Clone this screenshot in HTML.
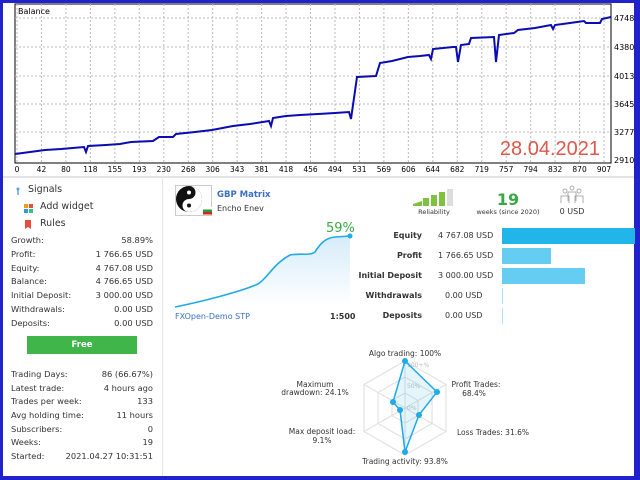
<!DOCTYPE html>
<html><head><meta charset="utf-8"><style>
*{margin:0;padding:0;box-sizing:border-box}
body{width:640px;height:480px;overflow:hidden;background:#2222cc;font-family:"DejaVu Sans","Liberation Sans",sans-serif;}
#wrap{position:absolute;left:3px;top:3px;width:631px;height:473px;background:#fff;}
.t{position:absolute;font-size:8.5px;color:#333;white-space:nowrap}
.r{text-align:right}
.c{text-align:center}
</style></head><body>
<div id="wrap"></div>
<svg width="640" height="480" style="position:absolute;left:0;top:0" font-family="DejaVu Sans, Liberation Sans, sans-serif">
<rect x="15" y="4" width="596" height="159" fill="#fff" stroke="#000" stroke-width="1"/>
<g stroke="#bbb" stroke-dasharray="2,2" stroke-width="1">
<line x1="15" y1="18" x2="611" y2="18"/><line x1="15" y1="47" x2="611" y2="47"/><line x1="15" y1="76" x2="611" y2="76"/><line x1="15" y1="104" x2="611" y2="104"/><line x1="15" y1="132" x2="611" y2="132"/>
</g>
<g id="vg" stroke="#bbb" stroke-dasharray="2,2"></g>
<text x="18" y="14" font-size="8" fill="#000">Balance</text>
<g font-size="8" fill="#000">
<text x="614" y="21">4748</text><text x="614" y="50">4380</text><text x="614" y="79">4013</text><text x="614" y="107">3645</text><text x="614" y="135">3277</text><text x="614" y="163">2910</text>
</g>
<g id="xl" font-size="7.5" fill="#000" text-anchor="middle"></g>
<polyline fill="none" stroke="#0b0bb4" stroke-width="2" points="15,154 30,152 45,150 61,149 84,147 86,152 88,146 106,145 120,144 131,142 153,141 159,137 173,137 176,134 195,132 212,130 233,126 250,124 269,121 271,126 273,118 286,116 300,115 318,114 335,113 349,112 351,119 357,77 376,76 380,63 392,61 408,57 420,56 429,55 431,59 433,49 453,47 456,47 458,62 461,45 469,44 471,38 494,37 496,62 499,35 514,33 518,30 535,28 551,25 553,29 555,25 570,23 584,21 586,23 600,23 602,19 611,17"/>
<text x="600" y="155" font-size="20" fill="#e0574b" text-anchor="end" font-family="Liberation Sans, sans-serif">28.04.2021</text>
<line x1="3" y1="177" x2="634" y2="177" stroke="#e4e4e4" stroke-width="2"/>
<line x1="162.5" y1="178" x2="162.5" y2="476" stroke="#e6e6e6"/>
<rect x="175.5" y="185.5" width="36" height="30" fill="#fff" stroke="#ccc"/>
<circle cx="189" cy="199" r="13" fill="#111"/><path d="M189 186 A13 13 0 0 1 189 212 A6.5 6.5 0 0 1 189 199 A6.5 6.5 0 0 0 189 186Z" fill="#fff"/>
<circle cx="189" cy="192.5" r="2" fill="#fff"/><circle cx="189" cy="205.5" r="2" fill="#111"/>
<rect x="203" y="207" width="9" height="2.5" fill="#fff"/><rect x="203" y="209.5" width="9" height="2.5" fill="#2a9a3a"/><rect x="203" y="212" width="9" height="2.5" fill="#d22"/>
<defs><linearGradient id="g" x1="0" y1="0" x2="0" y2="1"><stop offset="0" stop-color="#d6ecfa"/><stop offset="1" stop-color="#fff"/></linearGradient></defs>
<path d="M175,307 C200,302 240,292 258,284 C268,278 272,265 290,255 C300,253 310,256 315,252 C320,244 325,238 335,237 L350,236 L350,307Z" fill="url(#g)"/>
<path d="M175,307 C200,302 240,292 258,284 C268,278 272,265 290,255 C300,253 310,256 315,252 C320,244 325,238 335,237 L350,236" fill="none" stroke="#20aae8" stroke-width="1.6"/>
<circle cx="350" cy="236" r="2.5" fill="#20aae8"/>
<g><polygon points="413,204 422,201 422,206 413,206" fill="#7fc242"/><rect x="423" y="198" width="6" height="8" fill="#7fc242"/><rect x="431" y="195" width="6" height="11" fill="#7fc242"/><rect x="439" y="192" width="6" height="14" fill="#7fc242"/><rect x="447" y="189" width="6" height="17" fill="#ddd"/></g>
<g fill="none" stroke="#999" stroke-width="0.8"><circle cx="572" cy="188" r="2"/><circle cx="565" cy="191" r="2"/><circle cx="579" cy="191" r="2"/><path d="M561 203 v-7 h8 v7 M575 203 v-7 h8 v7 M568 201 v-9 h8 v9"/></g>
<rect x="502" y="228" width="133" height="16" fill="#22b5ea"/>
<rect x="502" y="248" width="49" height="16" fill="#66cdf2"/>
<rect x="502" y="268" width="83" height="16" fill="#66cdf2"/>
<rect x="502" y="288" width="1" height="16" fill="#aadff5"/>
<rect x="502" y="308" width="1" height="16" fill="#aadff5"/>
<g fill="none" stroke="#ddd" stroke-width="1">
<polygon points="405,361 446,384.5 446,431.5 405,455 364,431.5 364,384.5"/>
<polygon points="405,377 432,392.5 432,423.5 405,439 378,423.5 378,392.5"/>
<polygon points="405,393 418,400.5 418,415.5 405,423 392,415.5 392,400.5"/>
<line x1="405" y1="361" x2="405" y2="455"/><line x1="364" y1="384.5" x2="446" y2="431.5"/><line x1="446" y1="384.5" x2="364" y2="431.5"/>
</g>
<g font-size="6" fill="#bbb"><text x="407" y="367">100+%</text><text x="407" y="388">50%</text><text x="407" y="410">0%</text></g>
<polygon points="405,361 437,392 419,415 405,452 400,410 393,402" fill="rgba(32,170,232,0.12)" stroke="#20aae8" stroke-width="1.5"/>
<g fill="#20aae8"><circle cx="405" cy="361" r="3"/><circle cx="437" cy="392" r="3"/><circle cx="419" cy="415" r="3"/><circle cx="405" cy="452" r="3"/><circle cx="400" cy="410" r="3"/><circle cx="393" cy="402" r="3"/></g>
<g font-size="7.5" fill="#333" text-anchor="middle">
<text x="405" y="356">Algo trading: 100%</text>
<text x="476" y="387">Profit Trades:</text><text x="474" y="396">68.4%</text>
<text x="493" y="435">Loss Trades: 31.6%</text>
<text x="405" y="464">Trading activity: 93.8%</text>
<text x="322" y="434">Max deposit load:</text><text x="322" y="443">9.1%</text>
<text x="315" y="387">Maximum</text><text x="315" y="395">drawdown: 24.1%</text>
</g>
<g fill="#5aa0e0"><circle cx="18" cy="189" r="1.5"/><rect x="17.3" y="189" width="1.4" height="6"/></g>
<g><rect x="24" y="204" width="4" height="4" fill="#f39c12"/><rect x="29" y="204" width="4" height="4" fill="#e74c3c"/><rect x="24" y="209" width="4" height="4" fill="#3498db"/><rect x="29" y="209" width="4" height="4" fill="#2ecc71"/></g>
<path d="M25 220 h6 v9 l-3 -2 l-3 2z" fill="#e74c3c"/>
<rect x="27" y="336" width="110" height="18" fill="#3fb54a"/>
</svg>
<script>
var xs=[0,42,80,118,155,193,230,268,306,343,381,418,456,494,531,569,606,644,682,719,757,794,832,870,907];
var v=document.getElementById('vg'),l=document.getElementById('xl'),s='',t='';
xs.forEach(function(n,i){var x=17+i*24.46;s+='<line x1="'+x+'" y1="4" x2="'+x+'" y2="163"/>';t+='<text x="'+x+'" y="172">'+n+'</text>';});
v.innerHTML=s;l.innerHTML=t;
</script>
<div class="t" style="left:28px;top:184px;font-size:9.5px">Signals</div>
<div class="t" style="left:40px;top:201px;font-size:9.5px">Add widget</div>
<div class="t" style="left:40px;top:218px;font-size:9.5px">Rules</div>
<div style="position:absolute;left:11px;top:235px;width:142px">
<div style="display:flex;justify-content:space-between;height:13.8px;font-size:8.3px;color:#333"><span>Growth:</span><span>58.89%</span></div>
<div style="display:flex;justify-content:space-between;height:13.8px;font-size:8.3px;color:#333"><span>Profit:</span><span>1 766.65 USD</span></div>
<div style="display:flex;justify-content:space-between;height:13.8px;font-size:8.3px;color:#333"><span>Equity:</span><span>4 767.08 USD</span></div>
<div style="display:flex;justify-content:space-between;height:13.8px;font-size:8.3px;color:#333"><span>Balance:</span><span>4 766.65 USD</span></div>
<div style="display:flex;justify-content:space-between;height:13.8px;font-size:8.3px;color:#333"><span>Initial Deposit:</span><span>3 000.00 USD</span></div>
<div style="display:flex;justify-content:space-between;height:13.8px;font-size:8.3px;color:#333"><span>Withdrawals:</span><span>0.00 USD</span></div>
<div style="display:flex;justify-content:space-between;height:13.8px;font-size:8.3px;color:#333"><span>Deposits:</span><span>0.00 USD</span></div>
</div>
<div class="t c" style="left:27px;top:340px;width:110px;color:#fff;font-weight:bold;font-size:8.5px">Free</div>
<div style="position:absolute;left:11px;top:369px;width:142px">
<div style="display:flex;justify-content:space-between;height:13.7px;font-size:8.3px;color:#333"><span>Trading Days:</span><span>86 (66.67%)</span></div>
<div style="display:flex;justify-content:space-between;height:13.7px;font-size:8.3px;color:#333"><span>Latest trade:</span><span>4 hours ago</span></div>
<div style="display:flex;justify-content:space-between;height:13.7px;font-size:8.3px;color:#333"><span>Trades per week:</span><span>133</span></div>
<div style="display:flex;justify-content:space-between;height:13.7px;font-size:8.3px;color:#333"><span>Avg holding time:</span><span>11 hours</span></div>
<div style="display:flex;justify-content:space-between;height:13.7px;font-size:8.3px;color:#333"><span>Subscribers:</span><span>0</span></div>
<div style="display:flex;justify-content:space-between;height:13.7px;font-size:8.3px;color:#333"><span>Weeks:</span><span>19</span></div>
<div style="display:flex;justify-content:space-between;height:13.7px;font-size:8.3px;color:#333"><span>Started:</span><span>2021.04.27 10:31:51</span></div>
</div>
<div class="t" style="left:217px;top:190px;color:#3a6fc4;font-weight:bold;font-size:8.5px">GBP Matrix</div>
<div class="t" style="left:217px;top:204px;font-size:8px">Encho Enev</div>
<div class="t" style="left:326px;top:221px;color:#3aa845;font-size:13px">59%</div>
<div class="t" style="left:175px;top:312px;color:#3a6fc4;font-size:8px">FXOpen-Demo STP</div>
<div class="t" style="left:330px;top:312px;font-size:8px;font-weight:bold">1:500</div>
<div class="t c" style="left:404px;top:208px;width:60px;font-size:6.5px">Reliability</div>
<div class="t c" style="left:478px;top:190px;width:60px;font-size:16px;color:#3aa845;font-weight:bold">19</div>
<div class="t c" style="left:468px;top:208px;width:80px;font-size:6.5px">weeks (since 2020)</div>
<div class="t c" style="left:552px;top:207px;width:40px;font-size:8px">0 USD</div>
<div class="t r" style="left:340px;top:231px;width:82px;font-weight:bold;font-size:8px">Equity</div>
<div class="t r" style="left:340px;top:251px;width:82px;font-weight:bold;font-size:8px">Profit</div>
<div class="t r" style="left:340px;top:271px;width:82px;font-weight:bold;font-size:8px">Initial Deposit</div>
<div class="t r" style="left:340px;top:291px;width:82px;font-weight:bold;font-size:8px">Withdrawals</div>
<div class="t r" style="left:340px;top:311px;width:82px;font-weight:bold;font-size:8px">Deposits</div>
<div class="t" style="left:438px;top:231px;font-size:8px">4 767.08 USD</div>
<div class="t" style="left:438px;top:251px;font-size:8px">1 766.65 USD</div>
<div class="t" style="left:438px;top:271px;font-size:8px">3 000.00 USD</div>
<div class="t" style="left:445px;top:291px;font-size:8px">0.00 USD</div>
<div class="t" style="left:445px;top:311px;font-size:8px">0.00 USD</div>
</body></html>
